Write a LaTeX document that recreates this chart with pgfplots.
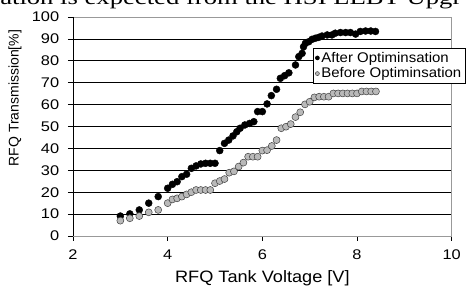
\documentclass[border=0pt]{standalone}
\usepackage{graphicx}
\usepackage{pgfplots}
\pgfplotsset{compat=1.18}
\usepackage{fontspec}
\setmainfont{Liberation Sans}
\newfontfamily\seriffont{Liberation Serif}
\begin{document}
\begin{tikzpicture}[x=1pt,y=1pt]
\useasboundingbox (0,0) rectangle (469,288);
\begin{scope}
\clip (0,0) rectangle (469,288);
\node[anchor=base west, inner sep=0, xscale=1.3, font=\seriffont\fontsize{20.5}{24}\selectfont] at (0,283) {ation is expected from the HSI LEBT Upgr};
\end{scope}
\begin{axis}[
  at={(73pt,52pt)}, anchor=south west,
  scale only axis, width=378.7pt, height=219pt,
  xmin=2, xmax=10, ymin=0, ymax=100,
  xtick={2,4,6,8,10}, ytick={0,10,...,100},
  xtick pos=bottom, ytick pos=left,
  tick align=outside, major tick length=5pt,
  tick style={black, line width=0.6pt},
  axis line style={draw=gray!80, line width=0.6pt},
  ymajorgrids, grid style={black, line width=0.6pt},
  /pgf/number format/assume math mode=true,
  tick label style={font=\fontsize{14}{16}\selectfont, xscale=1.17},
  xticklabel style={yshift=-5pt},
  yticklabel style={xshift=-4pt},
  xlabel={RFQ Tank Voltage [V]},
  ylabel={\fontsize{14}{16}\selectfont RFQ Transmission[\%]},
  xlabel style={font=\fontsize{16.5}{18}\selectfont, xscale=1.1, at={(axis description cs:0.5,0)}, anchor=base, yshift=-47pt},
  ylabel style={at={(axis description cs:-0.153,0.63)}, anchor=center},
  legend style={at={(axis description cs:0.634,0.857)}, anchor=north west,
    draw=black, line width=0.6pt, font=\fontsize{14}{16}\selectfont, inner xsep=2pt, inner ysep=1.5pt,
    row sep=0pt, cells={anchor=west}},
  legend image code/.code={\draw[#1, mark size=2pt] plot coordinates {(0.12cm,0cm)};},
]
\draw[black, line width=0.6pt] (rel axis cs:0,1) -- (rel axis cs:0,0) -- (rel axis cs:1,0);
\addplot[only marks, mark=*, mark size=3.5pt, mark options={fill=black, draw=black}] coordinates {
(3.0,9.1) (3.2,10.1) (3.4,11.9) (3.6,15.0) (3.8,18.0) (4.0,21.8) (4.1,23.6) (4.2,24.8)
(4.3,27.1) (4.4,28.2) (4.5,30.9) (4.6,32.0) (4.7,32.9) (4.8,33.2) (4.9,33.2) (5.0,33.2)
(5.1,39.0) (5.2,42.3) (5.29,43.8) (5.38,45.7) (5.46,47.6) (5.53,49.2) (5.63,50.7) (5.73,51.4)
(5.82,52.2) (5.9,56.8) (6.0,56.8) (6.1,60.3) (6.19,64.1) (6.3,67.0) (6.38,72.0) (6.47,73.2)
(6.56,74.5) (6.7,78.1) (6.77,81.9) (6.84,83.4) (6.87,86.4) (6.91,88.0) (6.98,88.7) (7.05,89.8)
(7.12,90.3) (7.19,90.7) (7.26,91.3) (7.37,91.8) (7.47,91.8) (7.54,92.6) (7.65,92.9) (7.76,92.9)
(7.86,92.9) (7.97,92.2) (8.07,93.4) (8.18,93.6) (8.29,93.6) (8.39,93.4)
};
\addlegendentry{\scalebox{1.07}[1]{After Optiminsation}}
\addplot[only marks, mark=*, mark size=3.5pt, mark options={fill=gray!55, draw=black!75, line width=0.5pt}] coordinates {
(3.0,7.0) (3.2,8.1) (3.4,9.1) (3.6,10.8) (3.8,11.9) (4.0,15.0) (4.1,16.7) (4.2,17.2)
(4.3,18.0) (4.4,19.0) (4.5,20.0) (4.6,21.0) (4.7,21.0) (4.8,21.0) (4.9,21.0) (5.0,24.1)
(5.1,25.1) (5.2,26.0) (5.3,28.9) (5.4,29.5) (5.5,31.7) (5.6,33.5) (5.7,36.2) (5.8,36.2)
(5.9,36.2) (6.0,39.0) (6.1,39.2) (6.2,41.1) (6.3,43.8) (6.4,49.2) (6.5,49.9) (6.6,51.1)
(6.7,54.3) (6.8,56.5) (6.9,60.1) (7.0,61.3) (7.1,63.3) (7.2,63.6) (7.3,63.6) (7.4,63.6)
(7.5,65.1) (7.6,65.1) (7.7,65.1) (7.8,65.1) (7.9,65.1) (8.0,65.1) (8.1,66.0) (8.2,66.0)
(8.3,66.0) (8.4,66.0)
};
\addlegendentry{\scalebox{1.07}[1]{Before Optiminsation}}
\end{axis}
\end{tikzpicture}
\end{document}
